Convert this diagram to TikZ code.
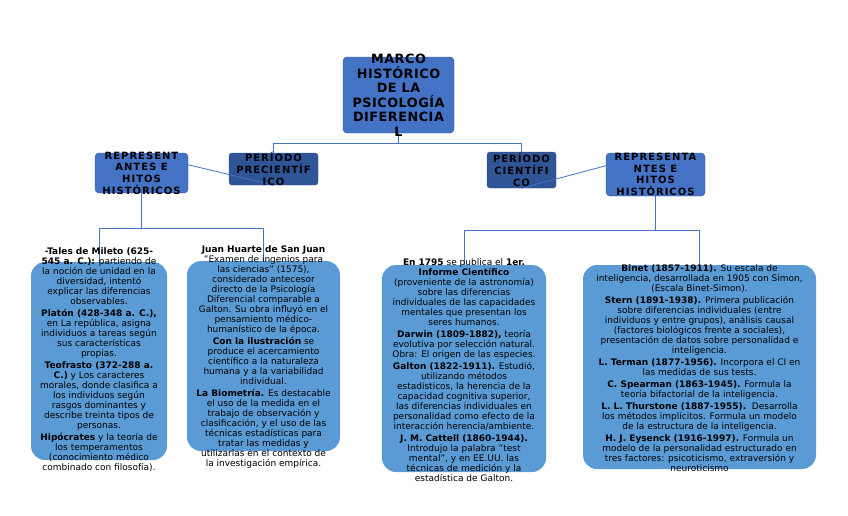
\documentclass[tikz,border=0pt]{standalone}
\usepackage{fontspec}
\setmainfont{DejaVu Sans}
\usetikzlibrary{positioning}

\definecolor{mainblue}{HTML}{4472C4}
\definecolor{mainedge}{HTML}{2F528F}
\definecolor{darkblue}{HTML}{2F5597}
\definecolor{lightblue}{HTML}{5B9BD5}

\begin{document}
\begin{tikzpicture}[
  x=1pt, y=-1pt,
  hbox/.style={draw=mainedge, fill=mainblue, rounded corners=4pt, inner sep=0pt},
  pbox/.style={draw=mainedge, fill=darkblue, rounded corners=3pt, inner sep=0pt},
  cbox/.style={fill=lightblue, rounded corners=14pt, inner sep=0pt},
  titletext/.style={align=center, inner sep=0pt,
    font=\fontsize{12.8}{14.5}\selectfont\bfseries\addfontfeature{LetterSpace=4}},
  htext/.style={align=center, inner sep=0pt,
    font=\fontsize{10}{11.6}\selectfont\bfseries\addfontfeature{LetterSpace=10}},
  ctext/.style={align=center, inner sep=0pt, font=\fontsize{9}{10}\selectfont},
  link/.style={draw=mainblue, line width=0.8pt}
]
\useasboundingbox (0,0) rectangle (848,515);
\node[hbox, minimum width=111, minimum height=76] (marco) at (398.5,95) {};
\node[hbox, minimum width=93, minimum height=40] (repizq) at (141.5,173) {};
\node[pbox, minimum width=89, minimum height=32] (precien) at (273.5,169) {};
\node[pbox, minimum width=69, minimum height=36] (cien) at (521.5,170) {};
\node[hbox, minimum width=99, minimum height=43] (repder) at (655.5,174.5) {};
\node[cbox, minimum width=136, minimum height=198] (tales) at (99,361) {};
\node[cbox, minimum width=153, minimum height=190] (huarte) at (263.5,356) {};
\node[cbox, minimum width=164, minimum height=207] (informe) at (464,368.5) {};
\node[cbox, minimum width=233, minimum height=204] (binet) at (699.5,367) {};
\draw[link] (marco.south) -- ++(0,10) -| (precien.north);
\draw[link] (marco.south) -- ++(0,10) -| (cien.north);
\draw[link] (repizq.10) -- (precien.south);
\draw[link] (cien.south) -- (repder.170);
\draw[link] (repizq.south) -- ++(0,35) -| (tales.north);
\draw[link] (repizq.south) -- ++(0,35) -| (huarte.north);
\draw[link] (repder.south) -- ++(0,34) -| (informe.north);
\draw[link] (repder.south) -- ++(0,34) -| (binet.north);
\node[titletext] (marcotxt) at (marco) {MARCO\\HISTÓRICO\\DE LA\\PSICOLOGÍA\\DIFERENCIA\\L};
\node[htext] (repizqtxt) at (repizq) {REPRESENT\\ANTES E\\HITOS\\HISTÓRICOS};
\node[htext] (precientxt) at (precien) {PERÍODO\\PRECIENTÍF\\ICO};
\node[htext] (cientxt) at (cien) {PERÍODO\\CIENTÍFI\\CO};
\node[htext] (repdertxt) at (repder) {REPRESENTA\\NTES E\\HITOS\\HISTÓRICOS};
\node[ctext] (talestxt) at (99,360) {\textbf{-Tales de Mileto (625-}\\\textbf{545 a. C.):} partiendo de\\la noción de unidad en la\\diversidad, intentó\\explicar las diferencias\\observables.\\[2pt]
  \textbf{Platón (428-348 a. C.),}\\en La república, asigna\\individuos a tareas según\\sus características\\propias.\\[2pt]
  \textbf{Teofrasto (372-288 a.}\\\textbf{C.)} y Los caracteres\\morales, donde clasifica a\\los individuos según\\rasgos dominantes y\\describe treinta tipos de\\personas.\\[2pt]
  \textbf{Hipócrates} y la teoría de\\los temperamentos\\(conocimiento médico\\combinado con filosofía).};
\node[ctext] (huartetxt) at (263.5,357) {\textbf{Juan Huarte de San Juan}\\"Examen de ingenios para\\las ciencias" (1575),\\considerado antecesor\\directo de la Psicología\\Diferencial comparable a\\Galton. Su obra influyó en el\\pensamiento médico-\\humanístico de la época.\\[2pt]
  \textbf{Con la ilustración} se\\produce el acercamiento\\científico a la naturaleza\\humana y a la variabilidad\\individual.\\[2pt]
  \textbf{La Biometría.} Es destacable\\el uso de la medida en el\\trabajo de observación y\\clasificación, y el uso de las\\técnicas estadísticas para\\tratar las medidas y\\utilizarlas en el contexto de\\la investigación empírica.};
\node[ctext] (informetxt) at (464,370) {\textbf{En 1795} se publica el \textbf{1er.}\\\textbf{Informe Científico}\\(proveniente de la astronomía)\\sobre las diferencias\\individuales de las capacidades\\mentales que presentan los\\seres humanos.\\[2pt]
  \textbf{Darwin (1809-1882),} teoría\\evolutiva por selección natural.\\Obra: El origen de las especies.\\[2pt]
  \textbf{Galton (1822-1911).} Estudió,\\utilizando métodos\\estadísticos, la herencia de la\\capacidad cognitiva superior,\\las diferencias individuales en\\personalidad como efecto de la\\interacción herencia/ambiente.\\[2pt]
  \textbf{J. M. Cattell (1860-1944).}\\Introdujo la palabra "test\\mental", y en EE.UU. las\\técnicas de medición y la\\estadística de Galton.};
\node[ctext] (binettxt) at (699.5,368) {\textbf{Binet (1857-1911).} Su escala de\\inteligencia, desarrollada en 1905 con Simon,\\(Escala Binet-Simon).\\[2pt]
  \textbf{Stern (1891-1938).} Primera publicación\\sobre diferencias individuales (entre\\individuos y entre grupos), análisis causal\\(factores biológicos frente a sociales),\\presentación de datos sobre personalidad e\\inteligencia.\\[2pt]
  \textbf{L. Terman (1877-1956).} Incorpora el CI en\\las medidas de sus tests.\\[2pt]
  \textbf{C. Spearman (1863-1945).} Formula la\\teoría bifactorial de la inteligencia.\\[2pt]
  \textbf{L. L. Thurstone (1887-1955).}\ \ Desarrolla\\los métodos implícitos. Formula un modelo\\de la estructura de la inteligencia.\\[2pt]
  \textbf{H. J. Eysenck (1916-1997).} Formula un\\modelo de la personalidad estructurado en\\tres factores: psicoticismo, extraversión y\\neuroticismo};
\end{tikzpicture}
\end{document}
